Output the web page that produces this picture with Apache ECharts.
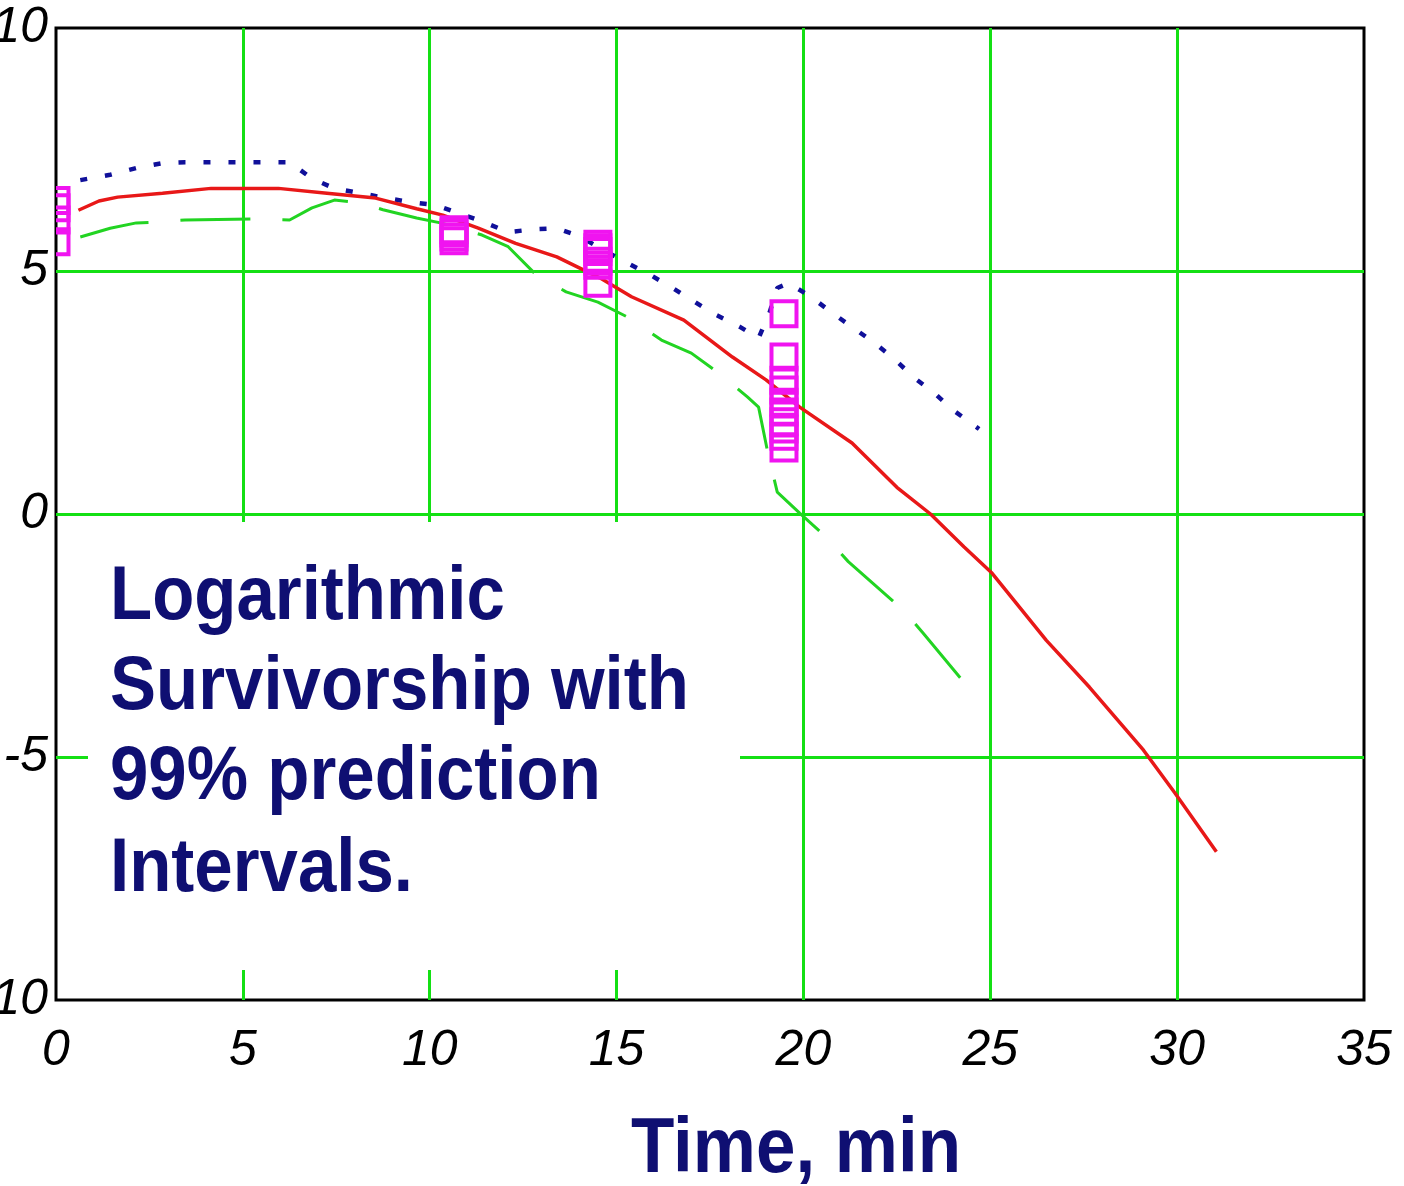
<!DOCTYPE html>
<html>
<head>
<meta charset="utf-8">
<script src="https://cdn.jsdelivr.net/npm/echarts@6/dist/echarts.min.js"></script>
<style>
  html, body { margin: 0; padding: 0; background: #ffffff; }
  #chart { width: 1404px; height: 1186px; }
</style>
</head>
<body>
<div id="chart"></div>
<script>
// Axis ticks
const timeTicks = [0, 5, 10, 15, 20, 25, 30, 35];
const logTicks = [-10, -5, 0, 5, 10];

// Fitted logarithmic survivorship curve [time, ln survivors]
const fittedCurve = [
  [0.6, 6.25], [1.15, 6.44], [1.65, 6.52], [2.85, 6.6], [4.15, 6.7], [5.95, 6.7],
  [7.25, 6.6], [8.55, 6.5], [9.65, 6.28], [10.35, 6.15], [11.3, 5.88], [12.3, 5.57],
  [13.4, 5.29], [14.55, 4.86], [15.4, 4.47], [16.8, 3.99], [18.1, 3.23],
  [19.0, 2.76], [19.9, 2.2], [21.3, 1.46], [22.5, 0.55], [23.4, 0.0],
  [24.3, -0.68], [25.05, -1.22], [26.5, -2.6], [27.65, -3.56], [29.1, -4.86],
  [29.95, -5.75], [31.05, -6.95]
];

// Upper 99% prediction limit
const upperLimit = [
  [0.65, 6.87], [1.45, 6.98], [2.15, 7.12], [2.85, 7.22], [3.45, 7.24], [6.25, 7.24],
  [6.85, 6.9], [7.45, 6.7], [8.15, 6.6], [8.85, 6.5], [9.45, 6.42], [10.15, 6.36],
  [10.85, 6.17], [11.5, 5.99], [12.1, 5.8], [12.8, 5.86], [13.4, 5.88],
  [14.0, 5.72], [14.6, 5.45], [15.3, 5.16], [15.9, 4.92], [16.5, 4.65],
  [17.1, 4.36], [17.6, 4.12], [18.3, 3.85], [18.8, 3.62], [19.1, 4.16],
  [19.3, 4.65], [19.6, 4.75], [20.2, 4.47], [20.8, 4.12], [21.3, 3.85],
  [21.9, 3.52], [22.4, 3.21], [23.0, 2.78], [23.5, 2.49], [24.0, 2.14],
  [24.7, 1.75]
];

// Lower 99% prediction limit
const lowerLimit = [
  [0.65, 5.7], [1.45, 5.88], [2.15, 5.99], [2.55, 6.0], [3.45, 6.05], [5.35, 6.07],
  [6.25, 6.05], [6.85, 6.3], [7.45, 6.46], [8.15, 6.4], [8.75, 6.26], [9.65, 6.09],
  [10.35, 5.98], [11.4, 5.74], [12.1, 5.5], [12.85, 4.92], [13.65, 4.57],
  [14.5, 4.36], [15.35, 4.03], [16.2, 3.58], [17.0, 3.31], [17.8, 2.86],
  [18.5, 2.41], [18.8, 2.2], [19.05, 1.25], [19.3, 0.45], [19.9, 0.02],
  [20.6, -0.47], [21.2, -0.98], [22.7, -2.0], [23.2, -2.45], [24.4, -3.56]
];

// Observed values
const observations = [
  [0, 6.45], [0, 6.3], [0, 6.05], [0, 5.6],
  [10.65, 5.85], [10.65, 5.78], [10.65, 5.7], [10.65, 5.62],
  [14.5, 5.55], [14.5, 5.48], [14.5, 5.4], [14.5, 5.2], [14.5, 5.12], [14.5, 4.75],
  [19.48, 4.12], [19.48, 3.23], [19.48, 2.75], [19.48, 2.55], [19.48, 2.3],
  [19.48, 2.1], [19.48, 1.9], [19.48, 1.75], [19.48, 1.6], [19.48, 1.36]
];

const GRID_GREEN = '#14e014';
const NAVY = '#0f0f72';

const chart = echarts.init(document.getElementById('chart'), null, { renderer: 'canvas' });

const tickFont = {
  color: '#000000',
  fontSize: 50,
  fontStyle: 'italic',
  fontFamily: '"Liberation Sans", Arial, sans-serif'
};

chart.setOption({
  backgroundColor: '#ffffff',
  animation: false,
  grid: {
    left: 56, top: 28, right: 40, bottom: 186,
    containLabel: false,
    outerBoundsMode: 'none',
    show: true,
    borderColor: '#000000',
    borderWidth: 3,
    backgroundColor: 'transparent'
  },
  xAxis: {
    type: 'value',
    min: timeTicks[0],
    max: timeTicks[timeTicks.length - 1],
    interval: 5,
    axisLine: { show: false },
    axisTick: { show: false },
    axisLabel: Object.assign({ margin: 26 }, tickFont),
    splitLine: {
      show: true,
      showMinLine: false,
      showMaxLine: false,
      lineStyle: { color: GRID_GREEN, width: 3 }
    }
  },
  yAxis: {
    type: 'value',
    min: logTicks[0],
    max: logTicks[logTicks.length - 1],
    interval: 5,
    axisLine: { show: false },
    axisTick: { show: false },
    axisLabel: Object.assign({ margin: 8 }, tickFont),
    splitLine: {
      show: true,
      showMinLine: false,
      showMaxLine: false,
      lineStyle: { color: GRID_GREEN, width: 3 }
    }
  },
  graphic: [
    {
      // blank panel behind the annotation
      type: 'rect',
      z: 1,
      shape: { x: 88, y: 522, width: 652, height: 448 },
      style: { fill: '#ffffff' }
    },
    {
      type: 'text', z: 5, x: 110, y: 598, scaleY: 1.09,
      style: { text: 'Logarithmic', fill: NAVY, verticalAlign: 'middle',
        font: 'bold 69px "Liberation Sans", Arial, sans-serif' }
    },
    {
      type: 'text', z: 5, x: 110, y: 688, scaleY: 1.09,
      style: { text: 'Survivorship with', fill: NAVY, verticalAlign: 'middle',
        font: 'bold 69px "Liberation Sans", Arial, sans-serif' }
    },
    {
      type: 'text', z: 5, x: 110, y: 778, scaleY: 1.09,
      style: { text: '99% prediction', fill: NAVY, verticalAlign: 'middle',
        font: 'bold 69px "Liberation Sans", Arial, sans-serif' }
    },
    {
      type: 'text', z: 5, x: 110, y: 870, scaleY: 1.09,
      style: { text: 'Intervals.', fill: NAVY, verticalAlign: 'middle',
        font: 'bold 69px "Liberation Sans", Arial, sans-serif' }
    },
    {
      type: 'text', z: 5, x: 796, y: 1150, scaleY: 1.1,
      style: { text: 'Time, min', fill: NAVY, align: 'center', verticalAlign: 'middle',
        font: 'bold 71px "Liberation Sans", Arial, sans-serif' }
    }
  ],
  series: [
    {
      name: 'Upper limit',
      type: 'line',
      data: upperLimit,
      showSymbol: false,
      z: 3,
      lineStyle: { color: '#10109a', width: 4.5, type: [7, 18] }
    },
    {
      name: 'Lower limit',
      type: 'line',
      data: lowerLimit,
      showSymbol: false,
      z: 3,
      lineStyle: { color: '#22d422', width: 3, type: [70, 32] }
    },
    {
      name: 'Fitted',
      type: 'line',
      data: fittedCurve,
      showSymbol: false,
      z: 4,
      lineStyle: { color: '#e81818', width: 3.5 }
    },
    {
      name: 'Observed',
      type: 'custom',
      data: observations,
      clip: true,
      z: 5,
      renderItem: function (params, api) {
        const p = api.coord([api.value(0), api.value(1)]);
        const s = 25;
        return {
          type: 'rect',
          shape: { x: p[0] - s / 2, y: p[1] - s / 2, width: s, height: s },
          style: { fill: 'transparent', stroke: '#f014f0', lineWidth: 4 }
        };
      }
    }
  ]
});
</script>
</body>
</html>
